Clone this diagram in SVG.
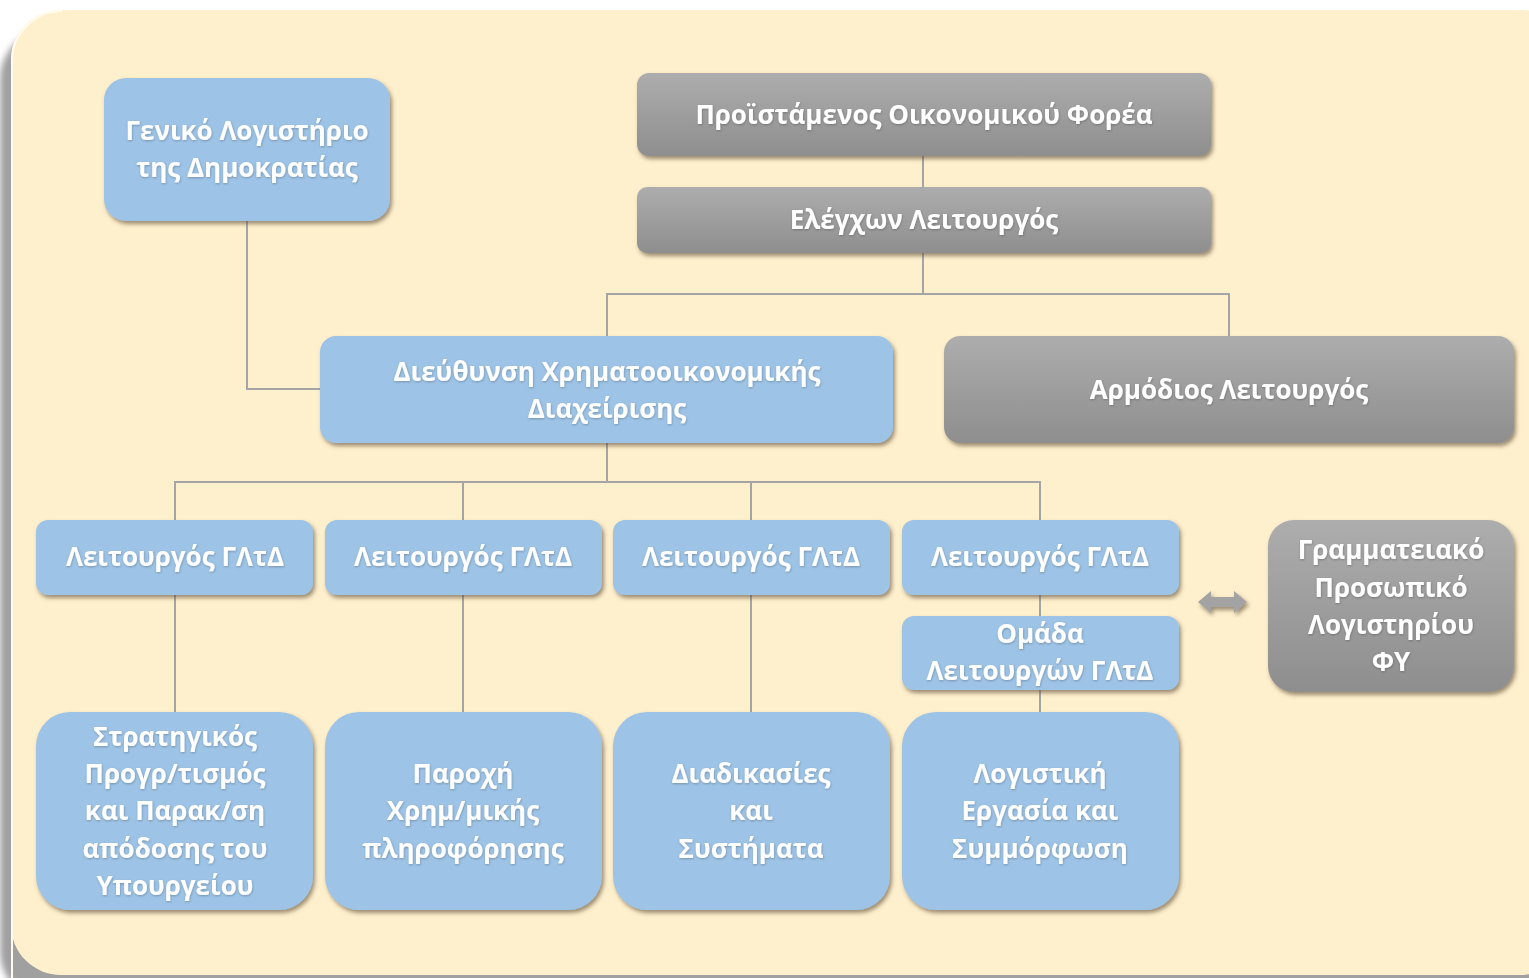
<svg xmlns="http://www.w3.org/2000/svg" width="1529" height="978" viewBox="0 0 1529 978">
<defs>
<linearGradient id="gray" x1="0" y1="0" x2="0" y2="1">
<stop offset="0" stop-color="#ADADAD"/>
<stop offset="1" stop-color="#8E8E8E"/>
</linearGradient>
<filter id="sh" x="-10%" y="-10%" width="120%" height="130%">
<feDropShadow dx="2" dy="3" stdDeviation="2" flood-color="#5a4a30" flood-opacity="0.6"/>
</filter>
<filter id="bgsh" x="-5%" y="-5%" width="110%" height="110%">
<feGaussianBlur stdDeviation="3"/>
</filter>
<filter id="tsh" x="-5%" y="-20%" width="110%" height="140%">
<feDropShadow dx="0.5" dy="1" stdDeviation="0.8" flood-color="#000" flood-opacity="0.25"/>
</filter>
<style>
.blue{fill:#9DC3E6;filter:url(#sh)}
.gray{fill:url(#gray);filter:url(#sh)}
.t{font-family:"Open Sans","Noto Sans","DejaVu Sans",sans-serif;font-weight:bold;font-size:26px;fill:#FFFFFF;text-anchor:middle;filter:url(#tsh)}
.c{fill:none;stroke:#A5A5A5;stroke-width:2}
</style>
</defs>
<rect width="1529" height="978" fill="#FFFFFF"/>
<rect x="0" y="28" width="1560" height="975" rx="52" fill="#A0A0A0" filter="url(#bgsh)"/>
<rect x="11" y="10" width="1560" height="965" rx="50" fill="#FEF0CD"/>
<path d="M12,990 V62 A50,50 0 0 1 62,11" fill="none" stroke="#FFFBEF" stroke-width="2"/>

<g id="connectors">
<path class="c" d="M923,156 V187"/>
<path class="c" d="M923,253 V294 M607,336 V294 H1229 V336"/>
<path class="c" d="M247,221 V389 H320"/>
<path class="c" d="M607,443 V482 M175,520 V482 H1040 V520 M463,482 V520 M751,482 V520"/>
<path class="c" d="M175,595 V712 M463,595 V712 M751,595 V712 M1040,595 V616 M1040,690 V712"/>
<path d="M1198,602 L1211,591 V597 H1234 V591 L1247,602 L1234,613 V607 H1211 V613 Z" fill="#A3A3A3" filter="url(#sh)"/>
</g>

<g id="n-gld">
<rect class="blue" x="104" y="78" width="286" height="143" rx="22"/>
<text class="t" x="247" y="140">Γενικό Λογιστήριο</text>
<text class="t" x="247" y="177">της Δημοκρατίας</text>
</g>
<g id="n-proist">
<rect class="gray" x="637" y="73" width="574" height="83" rx="12"/>
<text class="t" x="924" y="124">Προϊστάμενος Οικονομικού Φορέα</text>
</g>
<g id="n-elegxon">
<rect class="gray" x="637" y="187" width="574" height="66" rx="10"/>
<text class="t" x="924" y="229">Ελέγχων Λειτουργός</text>
</g>
<g id="n-dxd">
<rect class="blue" x="320" y="336" width="573" height="107" rx="16"/>
<text class="t" x="607" y="381">Διεύθυνση Χρηματοοικονομικής</text>
<text class="t" x="607" y="418">Διαχείρισης</text>
</g>
<g id="n-armodios">
<rect class="gray" x="944" y="336" width="570" height="107" rx="16"/>
<text class="t" x="1229" y="399">Αρμόδιος Λειτουργός</text>
</g>

<g id="n-l1">
<rect class="blue" x="36" y="520" width="277" height="75" rx="12"/>
<text class="t" x="175" y="566">Λειτουργός ΓΛτΔ</text>
</g>
<g id="n-l2">
<rect class="blue" x="325" y="520" width="277" height="75" rx="12"/>
<text class="t" x="463" y="566">Λειτουργός ΓΛτΔ</text>
</g>
<g id="n-l3">
<rect class="blue" x="613" y="520" width="277" height="75" rx="12"/>
<text class="t" x="751" y="566">Λειτουργός ΓΛτΔ</text>
</g>
<g id="n-l4">
<rect class="blue" x="902" y="520" width="277" height="75" rx="12"/>
<text class="t" x="1040" y="566">Λειτουργός ΓΛτΔ</text>
</g>
<g id="n-omada">
<rect class="blue" x="902" y="616" width="277" height="74" rx="12"/>
<text class="t" x="1040" y="643">Ομάδα</text>
<text class="t" x="1040" y="680">Λειτουργών ΓΛτΔ</text>
</g>
<g id="n-gramm">
<rect class="gray" x="1268" y="520" width="246" height="172" rx="26"/>
<text class="t" x="1391" y="559">Γραμματειακό</text>
<text class="t" x="1391" y="597">Προσωπικό</text>
<text class="t" x="1391" y="634">Λογιστηρίου</text>
<text class="t" x="1391" y="671">ΦΥ</text>
</g>

<g id="n-b1">
<rect class="blue" x="36" y="712" width="277" height="198" rx="34"/>
<text class="t" x="175" y="746">Στρατηγικός</text>
<text class="t" x="175" y="783">Προγρ/τισμός</text>
<text class="t" x="175" y="820">και Παρακ/ση</text>
<text class="t" x="175" y="858">απόδοσης του</text>
<text class="t" x="175" y="895">Υπουργείου</text>
</g>
<g id="n-b2">
<rect class="blue" x="325" y="712" width="277" height="198" rx="34"/>
<text class="t" x="463" y="783">Παροχή</text>
<text class="t" x="463" y="820">Χρημ/μικής</text>
<text class="t" x="463" y="858">πληροφόρησης</text>
</g>
<g id="n-b3">
<rect class="blue" x="613" y="712" width="277" height="198" rx="34"/>
<text class="t" x="751" y="783">Διαδικασίες</text>
<text class="t" x="751" y="820">και</text>
<text class="t" x="751" y="858">Συστήματα</text>
</g>
<g id="n-b4">
<rect class="blue" x="902" y="712" width="277" height="198" rx="34"/>
<text class="t" x="1040" y="783">Λογιστική</text>
<text class="t" x="1040" y="820">Εργασία και</text>
<text class="t" x="1040" y="858">Συμμόρφωση</text>
</g>
</svg>
